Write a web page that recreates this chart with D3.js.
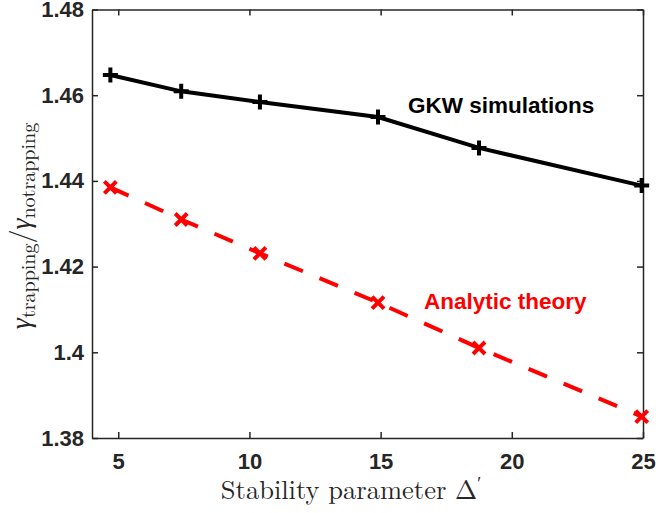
<!DOCTYPE html>
<html>
<head>
<meta charset="utf-8">
<script src="https://cdn.jsdelivr.net/npm/d3@7"></script>
<style>
  body { margin: 0; background: #fff; }
  .tick text { font-family: "Liberation Sans", Arial, sans-serif; font-weight: bold; font-size: 22px; fill: #262626; }
  .lab { font-family: "Latin Modern Roman", "CMU Serif", "Liberation Serif", serif; fill: #262626; }
</style>
</head>
<body>
<svg width="658" height="513"></svg>
<script>
var deltaPrime = [4.7, 7.4, 10.4, 14.9, 18.75, 24.95];
var gammaGKW = [1.4647, 1.4609, 1.4584, 1.4549, 1.4477, 1.4389];
var gammaTheory = [1.4385, 1.4310, 1.4231, 1.4116, 1.4010, 1.3850];
var xTicks = [5, 10, 15, 20, 25];
var yTicks = [1.38, 1.40, 1.42, 1.44, 1.46, 1.48];
var yTickLabels = ["1.38", "1.4", "1.42", "1.44", "1.46", "1.48"];

var svg = d3.select("svg");
var plotLeft = 92, plotRight = 643, plotTop = 9.5, plotBottom = 438;

var x = d3.scaleLinear().domain([4, 25]).range([plotLeft, plotRight]);
var y = d3.scaleLinear().domain([1.38, 1.48]).range([plotBottom, plotTop]);

var axisColor = "#262626";

// axes box with inward ticks
function styleAxis(g) {
  g.selectAll(".domain").attr("stroke", axisColor).attr("stroke-width", 1.5);
  g.selectAll(".tick line").attr("stroke", axisColor).attr("stroke-width", 1.5);
}

svg.append("g")
  .attr("transform", "translate(0," + plotBottom + ")")
  .call(d3.axisBottom(x).tickValues(xTicks).tickSize(-6).tickSizeOuter(0).tickPadding(15))
  .call(styleAxis);

svg.append("g")
  .attr("transform", "translate(0," + plotTop + ")")
  .call(d3.axisTop(x).tickValues(xTicks).tickSize(-6).tickSizeOuter(0).tickFormat(""))
  .call(styleAxis);

svg.append("g")
  .attr("transform", "translate(" + plotLeft + ",0)")
  .call(d3.axisLeft(y).tickValues(yTicks).tickSize(-6).tickSizeOuter(0).tickPadding(8)
    .tickFormat(function(d, i) { return yTickLabels[i]; }))
  .call(styleAxis);

svg.append("g")
  .attr("transform", "translate(" + plotRight + ",0)")
  .call(d3.axisRight(y).tickValues(yTicks).tickSize(-6).tickSizeOuter(0).tickFormat(""))
  .call(styleAxis);

var gkw = deltaPrime.map(function(d, i) { return [d, gammaGKW[i]]; });
var theory = deltaPrime.map(function(d, i) { return [d, gammaTheory[i]]; });

var line = d3.line()
  .x(function(d) { return x(d[0]); })
  .y(function(d) { return y(d[1]); });

svg.append("path")
  .datum(gkw)
  .attr("d", line)
  .attr("fill", "none")
  .attr("stroke", "#000")
  .attr("stroke-width", 4);

svg.append("path")
  .datum(theory)
  .attr("d", line)
  .attr("fill", "none")
  .attr("stroke", "#ff0000")
  .attr("stroke-width", 4)
  .attr("stroke-dasharray", "20,18");

// plus markers
var s = 7.5;
svg.append("g").selectAll("path")
  .data(gkw)
  .enter().append("path")
    .attr("d", function(d) {
      var cx = x(d[0]), cy = y(d[1]);
      return "M" + (cx - s) + "," + cy + "H" + (cx + s) + "M" + cx + "," + (cy - s) + "V" + (cy + s);
    })
    .attr("stroke", "#000")
    .attr("stroke-width", 4);

// cross markers
var c = 6;
svg.append("g").selectAll("path")
  .data(theory)
  .enter().append("path")
    .attr("d", function(d) {
      var cx = x(d[0]), cy = y(d[1]);
      return "M" + (cx - c) + "," + (cy - c) + "L" + (cx + c) + "," + (cy + c) +
             "M" + (cx - c) + "," + (cy + c) + "L" + (cx + c) + "," + (cy - c);
    })
    .attr("stroke", "#ff0000")
    .attr("stroke-width", 4);

svg.append("text")
  .attr("x", 408)
  .attr("y", 113)
  .style("font-family", "Liberation Sans, Arial, sans-serif")
  .style("font-weight", "bold")
  .style("font-size", "22.5px")
  .attr("fill", "#000")
  .text("GKW simulations");

svg.append("text")
  .attr("x", 424)
  .attr("y", 309)
  .style("font-family", "Liberation Sans, Arial, sans-serif")
  .style("font-weight", "bold")
  .style("font-size", "22.5px")
  .attr("fill", "#ff0000")
  .text("Analytic theory");

// axis labels
var xl = svg.append("text")
  .attr("class", "lab")
  .attr("x", 351)
  .attr("y", 499)
  .attr("text-anchor", "middle")
  .style("font-size", "26.5px");
xl.append("tspan").text("Stability parameter \u0394");
xl.append("tspan").attr("dy", -9).style("font-size", "18px").text("\u2032");

var yl = svg.append("text")
  .attr("class", "lab")
  .attr("transform", "translate(30,226) rotate(-90)")
  .attr("text-anchor", "middle")
  .style("font-size", "28px");
yl.append("tspan").style("font-style", "italic").text("\u03b3");
yl.append("tspan").attr("dy", 5).style("font-size", "20px").text("trapping");
yl.append("tspan").attr("dy", -5).text("/");
yl.append("tspan").style("font-style", "italic").text("\u03b3");
yl.append("tspan").attr("dy", 5).style("font-size", "20px").text("notrapping");
</script>
</body>
</html>
